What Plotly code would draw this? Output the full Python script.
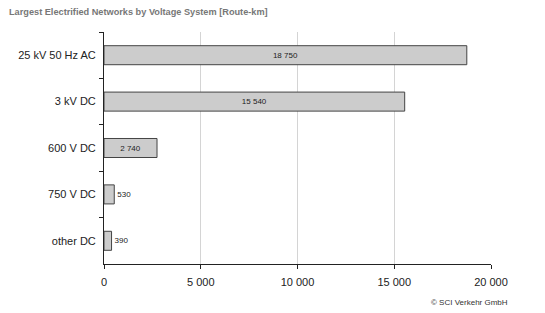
import plotly.graph_objects as go

categories = ["25 kV 50 Hz AC", "3 kV DC", "600 V DC", "750 V DC", "other DC"]
values = [18750, 15540, 2740, 530, 390]
label_pos = ["inside", "inside", "inside", "outside", "outside"]
x_ticks = [0, 5000, 10000, 15000, 20000]
x_tick_labels = ["0", "5 000", "10 000", "15 000", "20 000"]

def fmt(v):
    return f"{v:,}".replace(",", " ")

FONT = "Liberation Sans, Arial, Helvetica, sans-serif"

fig = go.Figure(go.Bar(
    y=categories,
    x=values,
    orientation="h",
    width=0.41,
    marker=dict(color="#cccccc", line=dict(color="#444444", width=1)),
    text=[fmt(v) for v in values],
    textposition=label_pos,
    insidetextanchor="middle",
    textfont=dict(family=FONT, size=8, color="#222222"),
    cliponaxis=False,
))

fig.update_layout(
    width=545, height=313,
    margin=dict(l=104, r=54, t=32, b=49, autoexpand=False),
    paper_bgcolor="white", plot_bgcolor="white",
    showlegend=False,
    font=dict(family=FONT, size=12, color="#222222"),
    annotations=[
        dict(text="<b>Largest Electrified Networks by Voltage System [Route-km]</b>",
             xref="paper", yref="paper", x=-97/387, y=1 + 20/232,
             xanchor="left", yanchor="middle", showarrow=False,
             font=dict(family=FONT, size=9.2, color="#777777")),
        dict(text="© SCI Verkehr GmbH",
             xref="paper", yref="paper", x=1 + 19/387, y=-38/232,
             xanchor="right", yanchor="middle", showarrow=False,
             font=dict(family=FONT, size=8, color="#333333")),
    ],
)

fig.update_xaxes(
    range=[0, 20000], tickvals=x_ticks, ticktext=x_tick_labels,
    showgrid=True, gridcolor="#d4d4d4", gridwidth=1,
    showline=True, linecolor="#222222", linewidth=1,
    ticks="outside", ticklen=4, tickcolor="#222222",
    zeroline=False, tickfont=dict(size=11), automargin=False,
    ticklabelstandoff=4,
)
fig.update_yaxes(
    categoryorder="array", categoryarray=categories, autorange="reversed",
    showline=True, linecolor="#222222", linewidth=1,
    ticks="outside", ticklen=4, tickcolor="#222222", tickson="boundaries",
    showgrid=False, tickfont=dict(size=11), automargin=False,
    ticklabelstandoff=5,
)

fig.write_html("out.html", config={"displayModeBar": False},
               post_script="document.body.style.margin='0';")
